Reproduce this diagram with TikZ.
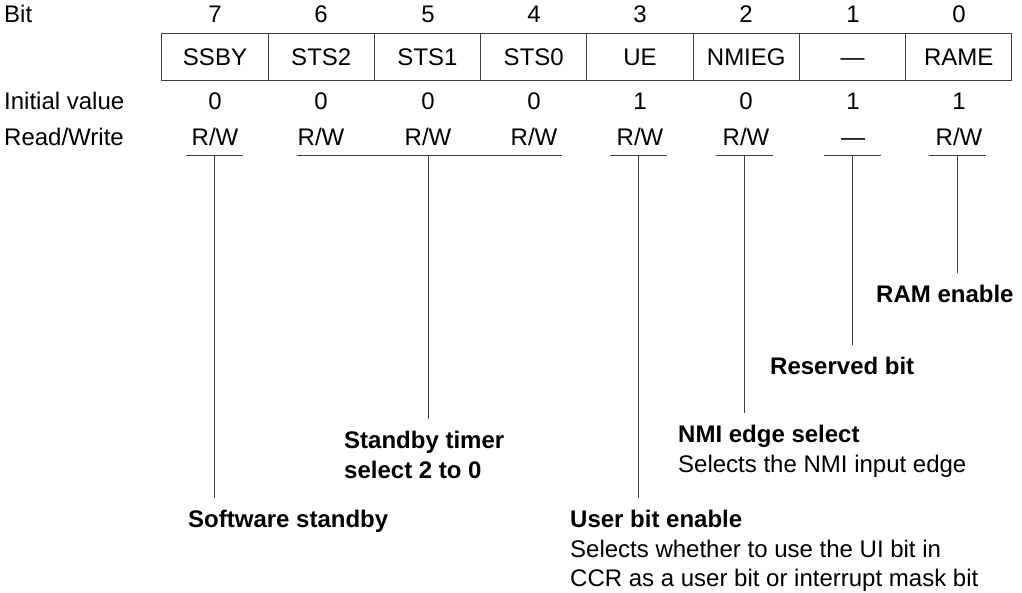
\documentclass[tikz,border=0pt]{standalone}
\usepackage{fontspec}
\setmainfont{Liberation Sans}
\usetikzlibrary{positioning}

\begin{document}
\begin{tikzpicture}
 [x=1pt, y=-1pt,
  every node/.style={font=\fontsize{24}{29.5}\selectfont},
  bit cell/.style={draw=black!75, line width=0.8pt, minimum width=106.25pt, minimum height=47pt, inner sep=0pt, text height=17.2pt, text depth=0pt},
  row text/.style={anchor=base west, inner sep=0pt},
  bit text/.style={anchor=base, inner sep=0pt},
  leader/.style={draw=black!75, line width=0.8pt},
  note node/.style={anchor=north west, align=left, inner xsep=0pt, inner ysep=12pt}]

\useasboundingbox (0,0) rectangle (1022,593);

% row titles
\node[row text] (bit title) at (4,23) {Bit};
\node[row text] (init title) at (4,110) {Initial value};
\node[row text] (rw title) at (4,146) {Read/Write};

% bit numbers
\node[bit text] (n7) at (215,23) {7};
\node[bit text] (n6) at (321,23) {6};
\node[bit text] (n5) at (428,23) {5};
\node[bit text] (n4) at (534,23) {4};
\node[bit text] (n3) at (640,23) {3};
\node[bit text] (n2) at (746,23) {2};
\node[bit text] (n1) at (853,23) {1};
\node[bit text] (n0) at (959,23) {0};

% register cells
\node[bit cell] (c7) at (215,56.5) {SSBY};
\node[bit cell] (c6) at (321.25,56.5) {STS2};
\node[bit cell] (c5) at (427.5,56.5) {STS1};
\node[bit cell] (c4) at (533.75,56.5) {STS0};
\node[bit cell] (c3) at (640,56.5) {UE};
\node[bit cell] (c2) at (746.25,56.5) {NMIEG};
\node[bit cell] (c1) at (852.5,56.5) {---};
\node[bit cell] (c0) at (958.75,56.5) {RAME};

% initial values
\node[bit text] (i7) at (215,110) {0};
\node[bit text] (i6) at (321,110) {0};
\node[bit text] (i5) at (428,110) {0};
\node[bit text] (i4) at (534,110) {0};
\node[bit text] (i3) at (640,110) {1};
\node[bit text] (i2) at (746,110) {0};
\node[bit text] (i1) at (853,110) {1};
\node[bit text] (i0) at (959,110) {1};

% read/write
\node[bit text] (rw7) at (215,146) {R/W};
\node[bit text] (rw6) at (321,146) {R/W};
\node[bit text] (rw5) at (428,146) {R/W};
\node[bit text] (rw4) at (534,146) {R/W};
\node[bit text] (rw3) at (640,146) {R/W};
\node[bit text] (rw2) at (746,146) {R/W};
\node[bit text] (rw1) at (853,146) {---};
\node[bit text] (rw0) at (959,146) {R/W};

% underlines
\coordinate (u7) at (214,155);
\coordinate (u64) at (428,155);
\coordinate (u3) at (638,155);
\coordinate (u2) at (744,155);
\coordinate (u1) at (852,155);
\coordinate (u0) at (957,155);
\draw[leader] ([xshift=-28.5pt]u7) -- ([xshift=28.5pt]u7);
\draw[leader] (297,155) -- (562,155);
\draw[leader] ([xshift=-28.5pt]u3) -- ([xshift=28.5pt]u3);
\draw[leader] ([xshift=-28.5pt]u2) -- ([xshift=28.5pt]u2);
\draw[leader] ([xshift=-28.5pt]u1) -- ([xshift=28.5pt]u1);
\draw[leader] ([xshift=-28.5pt]u0) -- ([xshift=28.5pt]u0);

% descriptions
\node[note node] (ssby note) at (188,498) {\textbf{Software standby}};
\node[note node] (sts note) at (344,419) {\textbf{Standby timer}\\\textbf{select 2 to 0}};
\node[note node] (ue note) at (570,498) {\textbf{User bit enable}\\Selects whether to use the UI bit in\\CCR as a user bit or interrupt mask bit};
\node[note node] (nmi note) at (678,413) {\textbf{NMI edge select}\\Selects the NMI input edge};
\node[note node] (rsv note) at (770,345) {\textbf{Reserved bit}};
\node[note node] (ram note) at (876,273) {\textbf{RAM enable}};

\path[leader]
  (u7) edge (u7 |- ssby note.north)
  (u64) edge (u64 |- sts note.north)
  (u3) edge (u3 |- ue note.north)
  (u2) edge (u2 |- nmi note.north)
  (u1) edge (u1 |- rsv note.north)
  (u0) edge (u0 |- ram note.north);

\end{tikzpicture}
\end{document}
